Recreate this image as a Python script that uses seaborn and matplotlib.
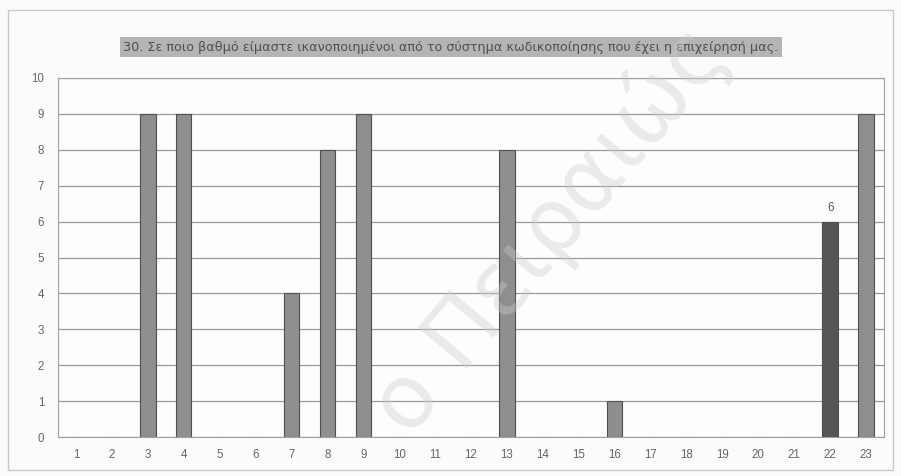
import matplotlib
matplotlib.use("Agg")
import matplotlib.pyplot as plt
from matplotlib.patches import Rectangle
import seaborn as sns
import pandas as pd

categories = [str(i) for i in range(1, 24)]
values = [0, 0, 9, 9, 0, 0, 4, 8, 9, 0, 0, 0, 8, 0, 0, 1, 0, 0, 0, 0, 0, 6, 9]
highlight = "22"
title = "30. Σε ποιο βαθμό είμαστε ικανοποιημένοι από το σύστημα κωδικοποίησης που έχει η επιχείρησή μας."
watermark = "ο Πειραιώς"

sns.set_theme(style="white")
plt.rcParams["font.family"] = ["Liberation Sans", "DejaVu Sans"]

df = pd.DataFrame({"cat": categories, "val": values})
palette = {c: ("#555555" if c == highlight else "#8e8e8e") for c in categories}

fig = plt.figure(figsize=(9.01, 4.76), dpi=100)
fig.patch.set_facecolor("#fbfbfb")

# outer chart frame
fig.add_artist(Rectangle((8 / 901, 1 - 470 / 476), 885 / 901, 460 / 476,
                         transform=fig.transFigure, fill=False,
                         edgecolor="#c8c8c8", linewidth=1.0))

ax = fig.add_axes([58 / 901, 39 / 476, 826 / 901, 359 / 476])
ax.set_facecolor("#fdfdfd")

sns.barplot(data=df, x="cat", y="val", hue="cat", palette=palette,
            legend=False, width=0.43, edgecolor="#505050", linewidth=0.8,
            saturation=1, ax=ax)

ax.set_ylim(0, 10)
ax.set_xlim(-0.5, len(categories) - 0.5)
ax.set_yticks(range(0, 11))
ax.yaxis.grid(True, color="#999999", linewidth=0.9)
ax.set_axisbelow(True)
ax.set_xlabel("")
ax.set_ylabel("")
for s in ax.spines.values():
    s.set_color("#a0a0a0")
    s.set_linewidth(0.8)
ax.tick_params(axis="both", labelsize=8.3, colors="#666666", length=0)
ax.tick_params(axis="x", pad=9)
ax.tick_params(axis="y", pad=10)

# value label on the highlighted bar
idx = categories.index(highlight)
ax.text(idx, values[idx] + 0.2, str(values[idx]), ha="center", va="bottom",
        fontsize=8.3, color="#555555")

fig.text(451 / 901, 1 - 47 / 476, title, ha="center", va="center",
         fontsize=9.2, color="#505050", family=["DejaVu Sans"],
         bbox=dict(boxstyle="square,pad=0.3", facecolor="#b4b4b4",
                   edgecolor="none"))

fig.text(0.61, 0.515, watermark, ha="center", va="center", rotation=50,
         fontsize=64, color="#cccccc", alpha=0.38, zorder=10,
         family=["DejaVu Sans"])

fig.savefig("out.png", dpi=100)
